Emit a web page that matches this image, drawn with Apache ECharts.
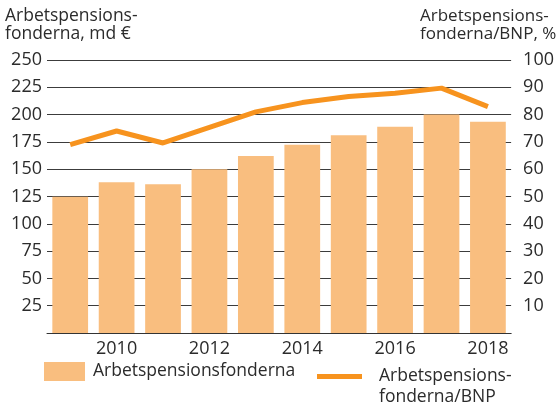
<!DOCTYPE html>
<html>
<head>
<meta charset="utf-8">
<script src="https://cdn.jsdelivr.net/npm/echarts@6/dist/echarts.min.js"></script>
<style>
html,body{margin:0;padding:0;background:#fff;}
#chart{width:557px;height:408px;}
</style>
</head>
<body>
<div id="chart"></div>
<script>
const years = ['2009','2010','2011','2012','2013','2014','2015','2016','2017','2018'];
const fundsBn = [124.8, 138, 136.2, 150, 162, 172.4, 181, 188.9, 200.2, 193.5];
const fundsPctGdp = [69, 74, 69.6, 75.3, 81, 84.4, 86.6, 87.8, 89.7, 82.9];
const leftTitle = 'Arbetspensions-\nfonderna, md €';
const rightTitle = 'Arbetspensions-\nfonderna/BNP, %';
const barName = 'Arbetspensionsfonderna';
const lineName = 'Arbetspensionsfonderna/BNP';

const FONT = '"Open Sans", sans-serif';
const TXT = '#2b2b2b';
const chart = echarts.init(document.getElementById('chart'));
chart.setOption({
  animation: false,
  backgroundColor: '#fff',
  textStyle: { fontFamily: FONT, color: TXT },
  title: [
    { text: leftTitle, left: 5, top: 7, padding: 0,
      textStyle: { fontFamily: FONT, fontSize: 17.5, fontWeight: 'normal', color: TXT, lineHeight: 18 } },
    { text: rightTitle, left: 420, top: 7, padding: 0,
      textStyle: { fontFamily: FONT, fontSize: 17, fontWeight: 'normal', color: TXT, lineHeight: 18 } }
  ],
  grid: { left: 47, right: 45, top: 60, bottom: 75, containLabel: false },
  legend: [
    { data: [barName], left: 44, top: 362, padding: 0, itemWidth: 41, itemHeight: 19,
      icon: 'rect',
      textStyle: { fontFamily: FONT, fontSize: 17.5, color: TXT, padding: [0, 0, 0, 3] } },
    { data: [lineName], left: 317, top: 345, padding: 0, itemWidth: 45, itemHeight: 5,
      icon: 'rect',
      formatter: () => '\nArbetspensions-\nfonderna/BNP',
      textStyle: { fontFamily: FONT, fontSize: 17.5, color: TXT, lineHeight: 21, padding: [0, 0, 0, 12] } }
  ],
  xAxis: {
    type: 'category', data: years,
    axisLine: { show: true, lineStyle: { color: '#333', width: 1 } },
    axisTick: { show: false },
    axisLabel: { interval: (i) => i % 2 === 1, fontFamily: FONT, fontSize: 18, color: TXT, margin: 7 }
  },
  yAxis: [
    { type: 'value', min: 0, max: 250, interval: 25,
      axisLine: { show: false }, axisTick: { show: false },
      splitLine: { show: true, lineStyle: { color: '#3c3c3c', width: 1 } },
      axisLabel: { fontFamily: FONT, fontSize: 18, color: TXT, margin: 5,
        formatter: (v) => v === 0 ? '' : String(v) } },
    { type: 'value', min: 0, max: 100, interval: 10,
      axisLine: { show: false }, axisTick: { show: false },
      splitLine: { show: false },
      axisLabel: { fontFamily: FONT, fontSize: 18, color: TXT, margin: 12,
        formatter: (v) => v === 0 ? '' : String(v) } }
  ],
  series: [
    { name: barName, type: 'bar', data: fundsBn, yAxisIndex: 0,
      barCategoryGap: '23%', itemStyle: { color: '#F9BE7F' }, z: 2 },
    { name: lineName, type: 'line', data: fundsPctGdp, yAxisIndex: 1,
      symbol: 'none', lineStyle: { color: '#F7931E', width: 5 }, itemStyle: { color: '#F7931E' }, z: 3 }
  ]
});
</script>
</body>
</html>
